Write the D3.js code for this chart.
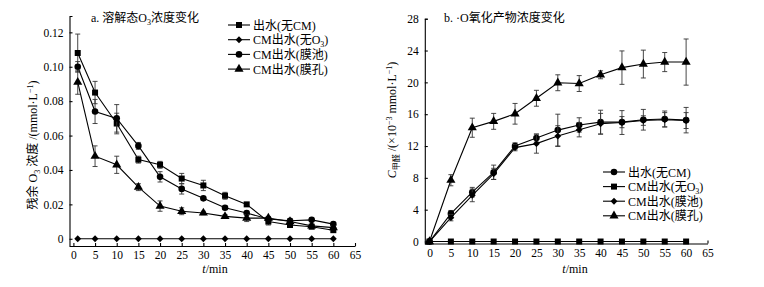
<!DOCTYPE html>
<html lang="zh">
<head>
    <meta charset="UTF-8">
    <title>O3 chart</title>
    <script src="https://cdn.jsdelivr.net/npm/d3@7"></script>
    <style>
        body { margin: 0; background: #fff; }
        text { font-family: "Liberation Serif", "Noto Sans CJK SC", serif; fill: #000; }
    </style>
</head>
<body>
<div id="main_container"></div>
<script>

    // ---- data: panel a (dissolved O3, mmol/L) ----
    var timeA = [1, 5, 10, 15, 20, 25, 30, 35, 40, 45, 50, 55, 60];
    var a_noCM     = [0.108, 0.085, 0.067, 0.046, 0.043, 0.035, 0.031, 0.025, 0.020, 0.010, 0.008, 0.007, 0.005];
    var a_noCM_err = [0.011, 0.0065, 0.006, 0.002, 0.002, 0.003, 0.003, 0.002, 0.001, 0.002, 0.001, 0.001, 0.001];
    var a_noO3     = [0, 0, 0, 0, 0, 0, 0, 0, 0, 0, 0, 0, 0];
    var a_noO3_err = [0, 0, 0, 0, 0, 0, 0, 0, 0, 0, 0, 0, 0];
    var a_pool     = [0.100, 0.074, 0.070, 0.054, 0.036, 0.029, 0.0235, 0.018, 0.015, 0.0115, 0.0105, 0.011, 0.0085];
    var a_pool_err = [0.003, 0.007, 0.008, 0.002, 0.003, 0.003, 0.001, 0.001, 0.001, 0.001, 0.001, 0.001, 0.001];
    var a_pore     = [0.091, 0.048, 0.043, 0.030, 0.019, 0.016, 0.015, 0.013, 0.012, 0.012, 0.010, 0.0075, 0.0065];
    var a_pore_err = [0.007, 0.006, 0.005, 0.002, 0.003, 0.002, 0.001, 0.001, 0.002, 0.001, 0.001, 0.001, 0.001];

    // ---- data: panel b (formaldehyde, x10^-3 mmol/L) ----
    var timeB = [0, 5, 10, 15, 20, 25, 30, 35, 40, 45, 50, 55, 60];
    var b_noCM     = [0, 3.5, 6.2, 8.7, 12.0, 13.0, 14.0, 14.65, 15.0, 15.0, 15.3, 15.4, 15.25];
    var b_noCM_err = [0, 0.4, 0.6, 0.9, 0.4, 0.5, 2.0, 0.9, 1.5, 0.7, 1.3, 1.0, 1.6];
    var b_noO3     = [0, 0, 0, 0, 0, 0, 0, 0, 0, 0, 0, 0, 0];
    var b_noO3_err = [0, 0, 0, 0, 0, 0, 0, 0, 0, 0, 0, 0, 0];
    var b_pool     = [0, 3.0, 5.8, 8.5, 11.8, 12.3, 13.25, 14.05, 14.8, 14.95, 15.2, 15.3, 15.2];
    var b_pool_err = [0, 0.4, 0.8, 0.7, 0.4, 1.2, 1.3, 0.9, 1.3, 1.5, 0.6, 0.9, 1.0];
    var b_pore     = [0, 7.7, 14.3, 15.1, 16.05, 18.0, 19.95, 19.85, 20.95, 21.85, 22.3, 22.55, 22.55];
    var b_pore_err = [0, 0.7, 1.2, 1.0, 1.3, 1.0, 1.0, 1.0, 0.5, 2.1, 1.75, 1.2, 2.9];

    var xTicks = [0, 5, 10, 15, 20, 25, 30, 35, 40, 45, 50, 55, 60, 65];
    var yTicksA = [0, 0.02, 0.04, 0.06, 0.08, 0.10, 0.12];
    var yTicksB = [0, 4, 8, 12, 16, 20, 24, 28];

    var svg = d3.select("#main_container").append("svg")
            .attr("width", 764)
            .attr("height", 287);

    // marker shapes
    var symSquare = d3.symbol().type(d3.symbolSquare).size(36);
    var symCircle = d3.symbol().type(d3.symbolCircle).size(34);
    var symDiamond = d3.symbol().type(d3.symbolDiamond2).size(30);
    var symTriangle = d3.symbol().type(d3.symbolTriangle).size(36);

    function drawAxes(g, x, y, yTicks, yFmt) {
        var xAxis = d3.axisBottom(x)
                .tickValues(xTicks)
                .tickSizeInner(-3)
                .tickSizeOuter(0)
                .tickPadding(5);
        var yAxis = d3.axisLeft(y)
                .tickValues(yTicks)
                .tickFormat(yFmt)
                .tickSizeInner(-3)
                .tickSizeOuter(-3)
                .tickPadding(6);

        var gx = g.append("g")
                .attr("transform", "translate(0," + y.range()[0] + ")")
                .call(xAxis);
        var gy = g.append("g")
                .attr("transform", "translate(" + x.range()[0] + ",0)")
                .call(yAxis);

        [gx, gy].forEach(function(a) {
            a.selectAll("path, line").attr("stroke", "#000").attr("stroke-width", 1.1);
            a.selectAll("text")
                .style("font-family", "'Liberation Serif', serif")
                .style("font-size", "11.5px");
        });
        gx.selectAll("text").attr("dy", "0.71em");
    }

    function drawSeries(g, x, y, t, vals, errs, sym) {
        var line = d3.line()
                .x(function(d, i) { return x(t[i]); })
                .y(function(d) { return y(d); });

        g.append("path")
            .datum(vals)
            .attr("fill", "none")
            .attr("stroke", "#000")
            .attr("stroke-width", 1.1)
            .attr("d", line);

        var eb = g.append("g").attr("stroke", "#333").attr("stroke-width", 0.9);
        vals.forEach(function(v, i) {
            if (errs[i] <= 0) return;
            var cx = x(t[i]), y1 = y(v + errs[i]), y2 = y(v - errs[i]);
            eb.append("line").attr("x1", cx).attr("x2", cx).attr("y1", y1).attr("y2", y2);
            eb.append("line").attr("x1", cx - 2.5).attr("x2", cx + 2.5).attr("y1", y1).attr("y2", y1);
            eb.append("line").attr("x1", cx - 2.5).attr("x2", cx + 2.5).attr("y1", y2).attr("y2", y2);
        });

        g.selectAll(null)
            .data(vals)
            .enter().append("path")
            .attr("transform", function(d, i) { return "translate(" + x(t[i]) + "," + y(d) + ")"; })
            .attr("d", sym)
            .attr("fill", "#000");
    }

    function drawLegend(g, x0, y0, dy, items) {
        items.forEach(function(it, i) {
            var yy = y0 + i * dy;
            g.append("line")
                .attr("x1", x0).attr("x2", x0 + 22)
                .attr("y1", yy).attr("y2", yy)
                .attr("stroke", "#000").attr("stroke-width", 1.1);
            g.append("path")
                .attr("transform", "translate(" + (x0 + 11) + "," + yy + ")")
                .attr("d", it.sym)
                .attr("fill", "#000");
            var tx = g.append("text")
                .attr("x", x0 + 25)
                .attr("y", yy + 4.5)
                .style("font-size", "12px");
            it.parts.forEach(function(p) {
                var s = tx.append("tspan").text(p[0]);
                if (p[1] == "sub") s.style("font-size", "8px").attr("dy", 3);
                if (p[1] == "back") s.attr("dy", -3);
            });
        });
    }

    // ================= panel a =================
    var gA = svg.append("g");
    var xA = d3.scaleLinear().domain([-0.9, 65]).range([69.5, 355]);
    var yA = d3.scaleLinear().domain([-0.0042, 0.1295]).range([246, 16]);

    drawAxes(gA, xA, yA, yTicksA, function(d) { return d == 0 ? "0" : d3.format(".2f")(d); });
    drawSeries(gA, xA, yA, timeA, a_noCM, a_noCM_err, symSquare);
    drawSeries(gA, xA, yA, timeA, a_noO3, a_noO3_err, symDiamond);
    drawSeries(gA, xA, yA, timeA, a_pool, a_pool_err, symCircle);
    drawSeries(gA, xA, yA, timeA, a_pore, a_pore_err, symTriangle);

    var tA = gA.append("text").attr("x", 91).attr("y", 22).style("font-size", "12px");
    tA.append("tspan").text("a. 溶解态O");
    tA.append("tspan").text("3").style("font-size", "8px").attr("dy", 3);
    tA.append("tspan").text("浓度变化").attr("dy", -3);

    drawLegend(gA, 228, 25, 14.7, [
        { sym: symSquare,   parts: [["出水(无CM)"]] },
        { sym: symDiamond,  parts: [["CM出水(无O"], ["3", "sub"], [")", "back"]] },
        { sym: symCircle,   parts: [["CM出水(膜池)"]] },
        { sym: symTriangle, parts: [["CM出水(膜孔)"]] }
    ]);

    var ylA = gA.append("text")
            .attr("transform", "translate(37,145) rotate(-90)")
            .attr("text-anchor", "middle")
            .style("font-size", "12px");
    ylA.append("tspan").text("残余 O");
    ylA.append("tspan").text("3").style("font-size", "8px").attr("dy", 3);
    ylA.append("tspan").text(" 浓度 /(mmol·L").attr("dy", -3);
    ylA.append("tspan").text("−1").style("font-size", "8px").attr("dy", -4);
    ylA.append("tspan").text(")").attr("dy", 4);

    var xlA = gA.append("text")
            .attr("x", 215).attr("y", 273)
            .attr("text-anchor", "middle")
            .style("font-size", "12px");
    xlA.append("tspan").text("t").style("font-style", "italic");
    xlA.append("tspan").text("/min");

    // ================= panel b =================
    var gB = svg.append("g");
    var xB = d3.scaleLinear().domain([-1.1, 65]).range([424.8, 707.5]);
    var yB = d3.scaleLinear().domain([-0.25, 28]).range([243.5, 18.7]);

    drawAxes(gB, xB, yB, yTicksB, d3.format("d"));
    drawSeries(gB, xB, yB, timeB, b_noCM, b_noCM_err, symCircle);
    drawSeries(gB, xB, yB, timeB, b_noO3, b_noO3_err, symSquare);
    drawSeries(gB, xB, yB, timeB, b_pool, b_pool_err, symDiamond);
    drawSeries(gB, xB, yB, timeB, b_pore, b_pore_err, symTriangle);

    gB.append("text").attr("x", 444).attr("y", 22).style("font-size", "12px")
        .text("b.  ·O氧化产物浓度变化");

    drawLegend(gB, 603, 172, 14.6, [
        { sym: symCircle,   parts: [["出水(无CM)"]] },
        { sym: symSquare,   parts: [["CM出水(无O"], ["3", "sub"], [")", "back"]] },
        { sym: symDiamond,  parts: [["CM出水(膜池)"]] },
        { sym: symTriangle, parts: [["CM出水(膜孔)"]] }
    ]);

    var ylB = gB.append("text")
            .attr("transform", "translate(396,120) rotate(-90)")
            .attr("text-anchor", "middle")
            .style("font-size", "12px");
    ylB.append("tspan").text("C").style("font-style", "italic");
    ylB.append("tspan").text("甲醛").style("font-size", "8px").attr("dy", 3);
    ylB.append("tspan").text(" /(×10").attr("dy", -3);
    ylB.append("tspan").text("−3").style("font-size", "8px").attr("dy", -4);
    ylB.append("tspan").text(" mmol·L").attr("dy", 4);
    ylB.append("tspan").text("−1").style("font-size", "8px").attr("dy", -4);
    ylB.append("tspan").text(")").attr("dy", 4);

    var xlB = gB.append("text")
            .attr("x", 575).attr("y", 273)
            .attr("text-anchor", "middle")
            .style("font-size", "12px");
    xlB.append("tspan").text("t").style("font-style", "italic");
    xlB.append("tspan").text("/min");

</script>
</body>
</html>
